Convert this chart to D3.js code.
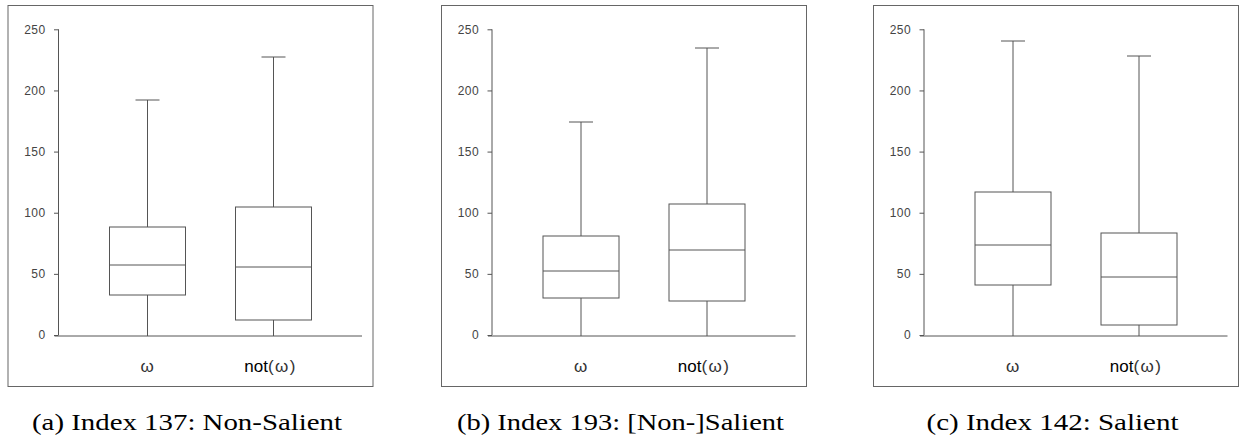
<!DOCTYPE html>
<html>
<head>
<meta charset="utf-8">
<script src="https://cdn.jsdelivr.net/npm/d3@7"></script>
<style>
  html, body { margin: 0; padding: 0; background: #fff; }
  svg { display: block; }
</style>
</head>
<body>
<svg id="chart" width="1239" height="439"></svg>
<script>
// Box-plot summaries per panel: [low whisker, Q1, median, Q3, high whisker]
const categories = ["ω", "not(ω)"];
const panelIds = ["a", "b", "c"];
const captions = ["(a) Index 137: Non-Salient", "(b) Index 193: [Non-]Salient", "(c) Index 142: Salient"];
const statsA = [[0, 32.9, 57.4, 88.8, 192.6], [0, 12.8, 56.1, 104.8, 227.4]];
const statsB = [[0, 30.6, 52.7, 81.4, 174.3], [0, 28.4, 69.7, 107.4, 235.5]];
const statsC = [[0, 40.9, 74.4, 117.5, 240.8], [0, 8.2, 47.8, 84.2, 228.8]];
const yTicks = [0, 50, 100, 150, 200, 250];
const yDomain = [0, 250];

const panelStats = [statsA, statsB, statsC];
const frameX = [8, 441.5, 873.5];
const captionWidths = [310, 327, 252];

const svg = d3.select("#chart");
const frameW = 365, frameH = 381, frameY = 5.5;
const axisX = 50.5, axisEnd = 354;
const lineColor = "#555";
const sans = "Arial, 'Liberation Sans', sans-serif";

const y = d3.scaleLinear().domain(yDomain).range([329.5, 23.8]);
const x = d3.scalePoint().domain(categories).range([axisX, axisEnd]).padding(0.706);
const boxW = 76, capW = 24;

panelIds.forEach((id, i) => {
  const g = svg.append("g").attr("transform", `translate(${frameX[i]},${frameY})`);

  // outer frame
  g.append("rect")
    .attr("x", 0).attr("y", 0)
    .attr("width", frameW).attr("height", frameH)
    .attr("fill", "none").attr("stroke", "#666").attr("stroke-width", 1);

  // y axis
  const yAxis = d3.axisLeft(y).tickValues(yTicks).tickSize(4.5).tickPadding(8.5);
  const ya = g.append("g").attr("transform", `translate(${axisX},0)`).call(yAxis);
  ya.select(".domain").attr("stroke", lineColor).attr("d", `M-0,${y(0)}V${y(250)}`);
  ya.selectAll(".tick line").attr("stroke", lineColor);
  ya.selectAll(".tick text")
    .attr("fill", "#444")
    .attr("letter-spacing", "0.4px")
    .style("font-family", sans)
    .style("font-size", "12px");

  // x axis baseline (no ticks)
  const xa = g.append("g").attr("transform", `translate(0,${Math.round(y(0)) + 0.5})`)
    .call(d3.axisBottom(x).tickSize(0).tickPadding(0));
  xa.select(".domain").attr("stroke", lineColor).attr("d", `M${axisX - 4},0H${axisEnd}`);
  xa.selectAll(".tick text").remove();
  const lbl = xa.selectAll(".tick").append("text")
    .attr("x", d => d === "ω" ? 0 : -3)
    .attr("y", 371 - frameY - y(0))
    .attr("text-anchor", "middle")
    .attr("fill", "#111")
    .style("font-family", sans)
    .style("font-size", "17px");
  lbl.each(function(d) {
    const t = d3.select(this);
    const m = d.match(/^(not)?(.*)$/);
    if (m[1]) t.append("tspan").attr("fill", "#000").text(m[1]);
    t.append("tspan").attr("fill", "#333").attr("letter-spacing", "1.5px").text(m[2]);
  });

  // boxes and whiskers
  const stats = panelStats[i];
  const boxes = g.append("g").selectAll("g").data(categories).join("g")
    .attr("transform", d => `translate(${Math.round(x(d)) + 0.5},0)`);

  boxes.each(function(d, k) {
    const s = stats[k];
    const b = d3.select(this);
    const py = v => Math.round(y(v)) + 0.5;
    // whiskers
    b.append("line").attr("x1", 0).attr("x2", 0).attr("y1", py(s[3])).attr("y2", py(s[4])).attr("stroke", lineColor);
    b.append("line").attr("x1", 0).attr("x2", 0).attr("y1", py(s[0])).attr("y2", py(s[1])).attr("stroke", lineColor);
    // caps
    b.append("line").attr("x1", -capW / 2).attr("x2", capW / 2).attr("y1", py(s[4])).attr("y2", py(s[4])).attr("stroke", lineColor);
    // box
    b.append("rect")
      .attr("x", -boxW / 2).attr("y", py(s[3]))
      .attr("width", boxW).attr("height", py(s[1]) - py(s[3]))
      .attr("fill", "#fff").attr("stroke", lineColor);
    // median
    b.append("line").attr("x1", -boxW / 2).attr("x2", boxW / 2).attr("y1", py(s[2])).attr("y2", py(s[2])).attr("stroke", lineColor);
  });

  // caption
  svg.append("text")
    .attr("x", frameX[i] + frameW / 2 - 3.5)
    .attr("y", 430)
    .attr("text-anchor", "middle")
    .attr("fill", "#000")
    .style("font-family", "'Liberation Serif', 'Times New Roman', serif")
    .style("font-size", "24px")
    .attr("textLength", captionWidths[i])
    .attr("lengthAdjust", "spacingAndGlyphs")
    .text(captions[i]);
});
</script>
</body>
</html>
